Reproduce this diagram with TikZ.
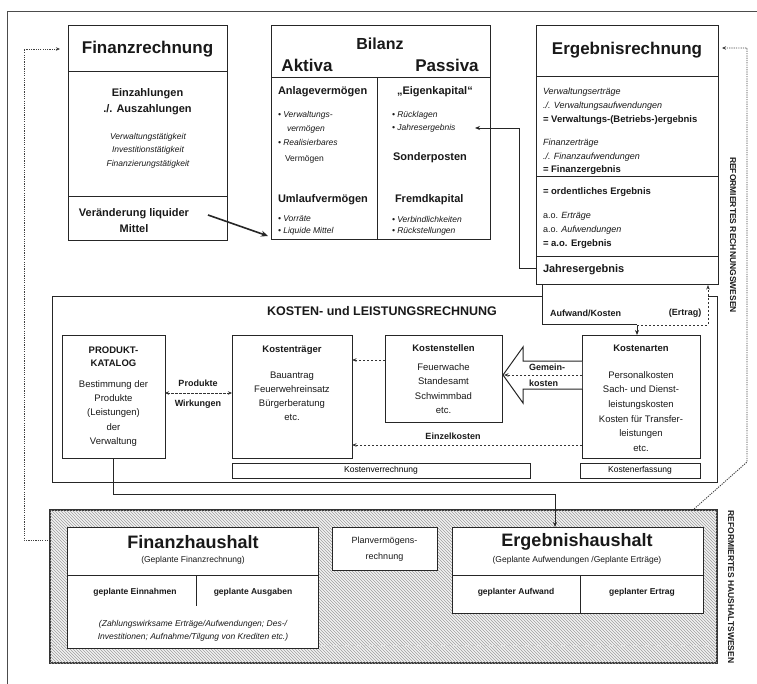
\documentclass[tikz,border=0pt]{standalone}
\usepackage{fontspec}
\setmainfont{Liberation Sans}
\usetikzlibrary{arrows.meta,patterns,calc}
\newcommand\fs[2]{\fontsize{#1}{#2}\selectfont}
\newcommand\mybox[6][]{\node[boxn,#1,minimum width={(#5)-(#3)},minimum height={(#6)-(#4)}] (#2) at ({((#3)+(#5))/2},{((#4)+(#6))/2}) {};}
\tikzset{
  boxn/.style={draw=black!85,line width=1pt,fill=white,inner sep=0pt,outer sep=0pt},
  txt/.style={inner sep=0pt,outer sep=0pt,text=black!90},
  lft/.style={txt,anchor=west},
  ttl/.style={txt,font=\bfseries\fs{17}{18}},
  sepl/.style={draw=black!85,line width=1pt},
  arr/.style={-{Stealth[length=5pt,width=4pt]},line width=0.9pt,draw=black!85},
  darr/.style={dash pattern=on 2.2pt off 1.8pt,line width=0.7pt,draw=black!80},
  dotl/.style={dash pattern=on 1.2pt off 1.1pt,line width=0.9pt,draw=black!75},
  hatchbox/.style={draw=black!80,line width=1.2pt,fill=gray!10,postaction={pattern=north west lines,pattern color=gray!75}},
}
\begin{document}
\begin{tikzpicture}[x=1pt,y=-1pt]
\useasboundingbox (0,0) rectangle (757,684);
% outer frame
\draw[line width=1pt,draw=black!70] (757,12) -- (7,12) -- (7,684);

% ---------------- Finanzrechnung
\mybox{fr}{68}{26}{227}{241}
\draw[sepl] (68,72) -- (227,72);
\draw[sepl] (68,197) -- (227,197);
\node[ttl] (frT) at (147.5,49) {Finanzrechnung};
\node[txt,font=\bfseries\fs{11}{16},align=center] (frA) at (147.5,102) {Einzahlungen\\./. Auszahlungen};
\node[txt,font=\itshape\fs{8.5}{13.5},align=center] (frB) at (148,150.5) {Verwaltungstätigkeit\\Investitionstätigkeit\\Finanzierungstätigkeit};
\node[txt,font=\bfseries\fs{11}{16},align=center] (frC) at (134,221) {Veränderung liquider\\Mittel};

% ---------------- Bilanz
\mybox{bi}{271}{26}{490}{240}
\draw[sepl] (271,78) -- (490,78);
\draw[sepl] (377,78) -- (377,240);
\node[txt,font=\bfseries\fs{16}{18}] (biT) at (380,44) {Bilanz};
\node[txt,font=\bfseries\fs{17}{18}] (biA) at (307,65) {Aktiva};
\node[txt,font=\bfseries\fs{17}{18}] (biP) at (447,65) {Passiva};
\node[lft,font=\bfseries\fs{11}{12}] (biAV) at (278,92) {Anlagevermögen};
\node[lft,font=\itshape\fs{8.5}{10}] (b1) at (278,115) {• Verwaltungs-};
\node[lft,font=\itshape\fs{8.5}{10}] (b2) at (287,129) {vermögen};
\node[lft,font=\itshape\fs{8.5}{10}] (b3) at (278,142) {• Realisierbares};
\node[lft,font=\fs{8.5}{10}] (b4) at (285,159) {Vermögen};
\node[lft,font=\bfseries\fs{11}{12}] (biUV) at (278,200) {Umlaufvermögen};
\node[lft,font=\itshape\fs{8.5}{10}] (b5) at (278,219) {• Vorräte};
\node[lft,font=\itshape\fs{8.5}{10}] (b6) at (278,231) {• Liquide Mittel};
\node[lft,font=\bfseries\fs{11}{12}] (biEK) at (397,92) {„Eigenkapital“};
\node[lft,font=\itshape\fs{8.5}{10}] (b7) at (392,115) {• Rücklagen};
\node[lft,font=\itshape\fs{8.5}{10}] (b8) at (392,128) {• Jahresergebnis};
\node[lft,font=\bfseries\fs{11}{12}] (biSP) at (393,158) {Sonderposten};
\node[lft,font=\bfseries\fs{11}{12}] (biFK) at (395,200) {Fremdkapital};
\node[lft,font=\itshape\fs{8.5}{10}] (b9) at (392,219) {• Verbindlichkeiten};
\node[lft,font=\itshape\fs{8.5}{10}] (b10) at (392,231) {• Rückstellungen};

% ---------------- Ergebnisrechnung
\mybox{er}{536}{26}{718}{285}
\draw[sepl] (536,77) -- (718,77);
\draw[sepl] (536,177) -- (718,177);
\draw[sepl] (536,257) -- (718,257);
\node[ttl] (erT) at (627,50) {Ergebnisrechnung};
\node[lft,font=\itshape\fs{9}{10}] (e1) at (543,92) {Verwaltungserträge};
\node[lft,font=\itshape\fs{9}{10}] (e2) at (543,106) {./. Verwaltungsaufwendungen};
\node[lft,font=\bfseries\fs{9.5}{10}] (e3) at (543,120) {= Verwaltungs-(Betriebs-)ergebnis};
\node[lft,font=\itshape\fs{9}{10}] (e4) at (543,143) {Finanzerträge};
\node[lft,font=\itshape\fs{9}{10}] (e5) at (543,157) {./. Finanzaufwendungen};
\node[lft,font=\bfseries\fs{9.5}{10}] (e6) at (543,170) {= Finanzergebnis};
\node[lft,font=\bfseries\fs{9.5}{10}] (e7) at (543,192) {= ordentliches Ergebnis};
\node[lft,font=\fs{9}{10}] (e8) at (543,216) {a.o. \textit{Erträge}};
\node[lft,font=\fs{9}{10}] (e9) at (543,230) {a.o. \textit{Aufwendungen}};
\node[lft,font=\bfseries\fs{9.5}{10}] (e10) at (543,244) {= a.o. Ergebnis};
\node[lft,font=\bfseries\fs{11}{12}] (erJ) at (543,270) {Jahresergebnis};

% connectors top
\coordinate (c1) at (519,268);
\coordinate (c2) at (519,128);
\coordinate (c3) at (475,128);
\draw[arr] (er.west |- c1) -- (c1) -- (c2) -- (c3);
\coordinate (lq1) at (208,215);
\coordinate (lq2) at (268,236);
\draw[arr,line width=1.6pt,-{Stealth[length=7pt,width=6pt]}] (lq1) -- (lq2);

% left dotted connector
\coordinate (dl1) at (24,49);
\coordinate (dl2) at (24,540);
\coordinate (dl3) at (64,540);
\draw[dotl,{Stealth[length=4pt,width=3.5pt]}-{Stealth[length=4pt,width=3.5pt]}] ([xshift=-8pt]fr.west |- dl1) -- (dl1) -- (dl2) -- (dl3);
% right dotted connector
\coordinate (dr1) at (747,48);
\coordinate (dr2) at (747,462);
\coordinate (dr3) at (685,517);
\draw[dotl,{Stealth[length=4pt,width=3.5pt]}-{Stealth[length=4pt,width=3.5pt]}] ([xshift=4pt]er.east |- dr1) -- (dr1) -- (dr2) -- (dr3);

% ---------------- KLR
\draw[line width=1pt,draw=black!85] (542,297) -- (52,297) -- (52,482) -- (717,482) -- (717,297) -- (708,297);
\node[txt,font=\bfseries\fs{12.5}{14}] (klrT) at (382,311) {KOSTEN- und LEISTUNGSRECHNUNG};
\coordinate (ak1) at (542,325);
\coordinate (ak2) at (637,325);
\coordinate (ak3) at (708,325);
\draw[line width=1pt,draw=black!85] (er.south -| ak1) -- (ak1) -- (ak2);
\node[lft,font=\bfseries\fs{9}{10}] (aufw) at (550,313) {Aufwand/Kosten};
\node[txt,font=\bfseries\fs{9}{10}] (ertr) at (685,313) {(Ertrag)};

\mybox{pk}{62}{335}{165}{458}
\node[txt,font=\bfseries\fs{9.5}{13},align=center] (pkT) at (113.5,356.5) {PRODUKT-\\KATALOG};
\node[txt,font=\fs{9.5}{14.2},align=center] (pkB) at (113.5,413.5) {Bestimmung der\\Produkte\\(Leistungen)\\der\\Verwaltung};

\mybox{kt}{232}{335}{352}{458}
\node[txt,font=\bfseries\fs{9.5}{10}] (ktT) at (292,350) {Kostenträger};
\node[txt,font=\fs{9.5}{14},align=center] (ktB) at (292,396) {Bauantrag\\Feuerwehreinsatz\\Bürgerberatung\\etc.};

\mybox{ks}{385}{335}{502}{422}
\node[txt,font=\bfseries\fs{9.5}{10}] (ksT) at (443.5,348) {Kostenstellen};
\node[txt,font=\fs{9.5}{14.3},align=center] (ksB) at (443.5,388.5) {Feuerwache\\Standesamt\\Schwimmbad\\etc.};

\mybox{ka}{582}{335}{700}{458}
\node[txt,font=\bfseries\fs{9.5}{10}] (kaT) at (641,348) {Kostenarten};
\node[txt,font=\fs{9.5}{14.6},align=center] (kaB) at (641,411.5) {Personalkosten\\Sach- und Dienst-\\leistungskosten\\Kosten für Transfer-\\leistungen\\etc.};

\draw[arr] (ak2) -- (ka.north -| ak2);
\draw[darr,-{Stealth[length=4.5pt,width=3.5pt]}] (ak2) -- (ak3) -- (er.south -| ak3);

% Produkte / Wirkungen
\coordinate (pw) at (198,393);
\draw[darr,{Stealth[length=4pt,width=3.5pt]}-{Stealth[length=4pt,width=3.5pt]}] (pk.east |- pw) -- (kt.west |- pw);
\node[txt,font=\bfseries\fs{9}{10}] (pwA) at (198,383) {Produkte};
\node[txt,font=\bfseries\fs{9}{10}] (pwB) at (198,404) {Wirkungen};

% Kostenstellen -> Kostentraeger
\coordinate (kk) at (360,360);
\draw[darr,-{Stealth[length=4.5pt,width=3.5pt]}] (ks.west |- kk) -- (kt.east |- kk);

% Einzelkosten
\coordinate (ez) at (453,445);
\draw[darr,-{Stealth[length=4.5pt,width=3.5pt]}] (ka.west |- ez) -- (kt.east |- ez);
\node[txt,font=\bfseries\fs{9}{10}] (ezL) at (453,436) {Einzelkosten};

% Gemeinkosten hollow arrow
\draw[fill=white,line width=1pt,draw=black!85] (582,361) -- (523,361) -- (523,347) -- (503,375) -- (523,403) -- (523,389) -- (582,389);
\coordinate (gk) at (540,375);
\draw[darr,-{Stealth[length=4.5pt,width=3.5pt]}] (ka.west |- gk) -- ([xshift=2pt]ks.east |- gk);
\node[lft,font=\bfseries\fs{9}{10}] (gkA) at (529,367) {Gemein-};
\node[lft,font=\bfseries\fs{9}{10}] (gkB) at (529,383) {kosten};

% bottom label boxes
\node[boxn,line width=0.8pt,minimum width=298,minimum height=15,font=\fs{8.5}{10}] (kv) at (381,470.5) {Kostenverrechnung};
\node[boxn,line width=0.8pt,minimum width=120,minimum height=15,font=\fs{8.5}{10}] (kef) at (640,470.5) {Kostenerfassung};

% ---------------- Haushalt (hatched)
\mybox[hatchbox]{hh}{50}{510}{717}{663}
\draw[dash pattern=on 2pt off 2pt,line width=0.5pt,draw=white!70!gray] (52,645) -- (715,645);

\mybox{fh}{67}{527}{318}{648}
\draw[sepl] (67,575) -- (318,575);
\draw[sepl] (196,575) -- (196,606);
\node[ttl,font=\bfseries\fs{18}{18}] (fhT) at (193,542) {Finanzhaushalt};
\node[txt,font=\fs{8.5}{10}] (fhS) at (193,560) {(Geplante Finanzrechnung)};
\node[txt,font=\bfseries\fs{8.5}{10}] (fhE) at (135,592) {geplante Einnahmen};
\node[txt,font=\bfseries\fs{8.5}{10}] (fhA) at (253,592) {geplante Ausgaben};
\node[txt,font=\itshape\fs{8.5}{13},align=center] (fhZ) at (193,630.5) {(Zahlungswirksame Erträge/Aufwendungen; Des-/\\Investitionen; Aufnahme/Tilgung von Krediten etc.)};

\mybox{pv}{332}{527}{437}{570}
\node[txt,font=\fs{9}{16},align=center] (pvT) at (384.5,549) {Planvermögens-\\rechnung};

\mybox{eh}{452}{527}{703}{613}
\draw[sepl] (452,575) -- (703,575);
\draw[sepl] (580,575) -- (580,613);
\node[ttl,font=\bfseries\fs{18}{18}] (ehT) at (577,542) {Ergebnishaushalt};
\node[txt,font=\fs{8.5}{10}] (ehS) at (577,560) {(Geplante Aufwendungen /Geplante Erträge)};
\node[txt,font=\bfseries\fs{8.5}{10}] (ehA) at (516,592) {geplanter Aufwand};
\node[txt,font=\bfseries\fs{8.5}{10}] (ehE) at (642,592) {geplanter Ertrag};

% connector Produktkatalog -> Ergebnishaushalt
\coordinate (pe1) at (113.5,494);
\coordinate (pe2) at (555,494);
\draw[arr] (pk.south) -- (pe1) -- (pe2) -- (eh.north -| pe2);

% vertical labels
\node[txt,rotate=-90,font=\bfseries\fs{8.5}{9}] (rw1) at (733,235) {REFORMIERTES RECHNUNGSWESEN};
\node[txt,rotate=-90,font=\bfseries\fs{8.5}{9}] (rw2) at (731,587) {REFORMIERTES HAUSHALTSWESEN};
\end{tikzpicture}
\end{document}
